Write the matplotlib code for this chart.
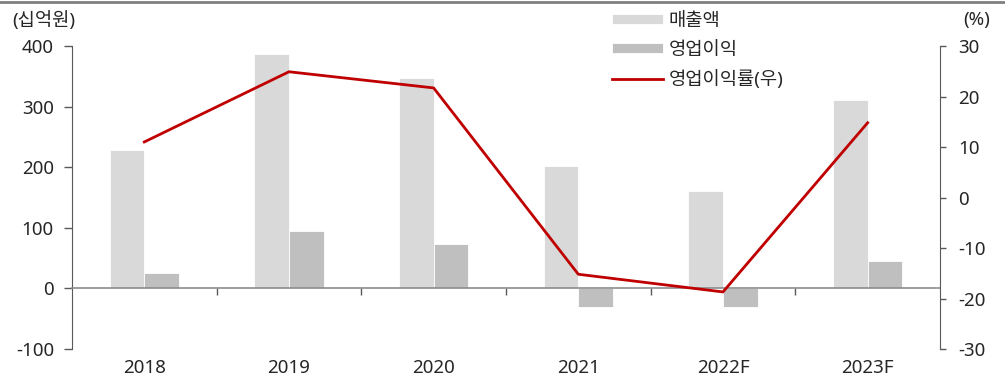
import numpy as np
import matplotlib.pyplot as plt
from matplotlib.lines import Line2D

plt.rcParams['font.family'] = ['Noto Sans', 'Noto Sans CJK KR', 'DejaVu Sans']
plt.rcParams['axes.unicode_minus'] = False

# ------------------------------------------------------------
# data
# ------------------------------------------------------------
years = ['2018', '2019', '2020', '2021', '2022F', '2023F']
sales = [228, 387, 347, 202, 160, 311]          # 매출액 (십억원)
op_profit = [25, 94, 74, -31, -30, 45]          # 영업이익 (십억원)
op_margin = [11.0, 24.9, 21.7, -15.2, -18.7, 14.8]  # 영업이익률 (%)

left_ticks = [-100, 0, 100, 200, 300, 400]
right_ticks = [-30, -20, -10, 0, 10, 20, 30]

# ------------------------------------------------------------
# figure
# ------------------------------------------------------------
fig = plt.figure(figsize=(10.05, 3.85), dpi=100)
ax = fig.add_axes([0.0716, 0.0935, 0.8637, 0.787])

x = np.arange(len(years))
w = 0.24
spine_c = '#595959'
txt_c = '#262626'
fs = 13.5

ax.bar(x - w / 2, sales, w, color='#D9D9D9', edgecolor='white', linewidth=0.6,
       label='매출액', zorder=2)
ax.bar(x + w / 2, op_profit, w, color='#BFBFBF', edgecolor='white', linewidth=0.6,
       label='영업이익', zorder=2)

ax.set_xlim(-0.5, len(years) - 0.5)
ax.set_ylim(-100, 400)
ax.set_yticks(left_ticks)
ax.set_xticks(x)
ax.set_xticklabels(years)
ax.tick_params(axis='x', length=0, pad=7, labelsize=fs, colors=txt_c)
ax.tick_params(axis='y', direction='out', length=6, width=1, color=spine_c,
               labelsize=fs, labelcolor=txt_c, pad=7)
for s in ['top', 'right', 'bottom']:
    ax.spines[s].set_visible(False)
ax.spines['left'].set_color(spine_c)

# zero line with tick marks between categories
zero = ax.secondary_xaxis(100 / 500)
zero.set_zorder(5)
zero.set_xticks(x[:-1] + 0.5)
zero.tick_params(axis='x', direction='out', length=5, width=1, color=spine_c,
                 labelbottom=False, labeltop=False)
zero.spines['bottom'].set_color('#8C8C8C')
zero.spines['bottom'].set_linewidth(1.2)

# margin line on the right axis
ax2 = ax.twinx()
ax2.plot(x, op_margin, color='#C00000', lw=2.0, label='영업이익률(우)', zorder=3)
ax2.set_ylim(-30, 30)
ax2.set_yticks(right_ticks)
ax2.tick_params(axis='y', direction='out', length=4, width=1, color=spine_c,
                labelsize=fs, labelcolor=txt_c, pad=9)
for s in ['top', 'left', 'bottom']:
    ax2.spines[s].set_visible(False)
ax2.spines['right'].set_color(spine_c)

# legend
h1, l1 = ax.get_legend_handles_labels()
h2, l2 = ax2.get_legend_handles_labels()
leg = fig.legend(h1 + h2, l1 + l2, loc='upper left', bbox_to_anchor=(0.609, 0.97),
                 frameon=False, fontsize=fs, handlelength=2.7, handleheight=0.45,
                 handletextpad=0.3, labelspacing=0.6, borderaxespad=0,
                 borderpad=0)
for t in leg.get_texts():
    t.set_color(txt_c)

# unit labels
fig.text(0.012, 0.948, '(십억원)', fontsize=fs, color=txt_c, ha='left', va='center')
fig.text(0.985, 0.948, '(%)', fontsize=fs, color=txt_c, ha='right', va='center')

# top rule
fig.add_artist(Line2D([0, 1], [0.996, 0.996], transform=fig.transFigure,
                      color='#808080', lw=2.0))

fig.savefig('out.png', dpi=100)
